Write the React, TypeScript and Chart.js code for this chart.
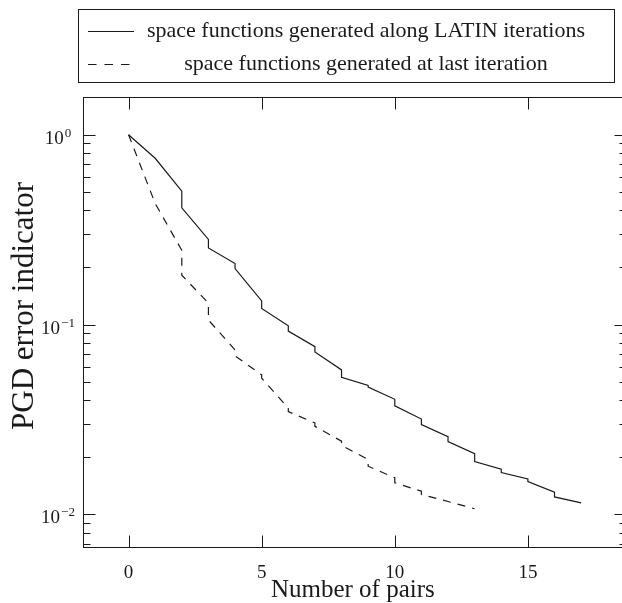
import React, { useEffect, useRef } from 'react';
import { Chart, registerables } from 'chart.js';

Chart.register(...registerables);

// ---- data ----
const solidPairs = [0, 1, 2, 3, 4, 5, 6, 7, 8, 9, 10, 11, 12, 13, 14, 15, 16, 17];
const solidBefore = [1.0, 0.751, 0.504, 0.281, 0.2095, 0.1333, 0.0986, 0.0765, 0.0577, 0.0478, 0.0404, 0.0318, 0.0257, 0.0209, 0.0173, 0.01536, 0.0131, 0.01149];
const solidAfter = [1.0, 0.751, 0.412, 0.253, 0.197, 0.1216, 0.0924, 0.0717, 0.0527, 0.0468, 0.0373, 0.0297, 0.0242, 0.019, 0.0166, 0.0149, 0.01236, 0.01149];

const dashedPairs = [0, 1, 2, 3, 4, 5, 6, 7, 8, 9, 10, 11, 12, 13];
const dashedBefore = [1.0, 0.434, 0.246, 0.1297, 0.0735, 0.0543, 0.0363, 0.0303, 0.0243, 0.01945, 0.0156, 0.01325, 0.0117, 0.01071];
const dashedAfter = [1.0, 0.434, 0.182, 0.1056, 0.0684, 0.0522, 0.0348, 0.0291, 0.0231, 0.01794, 0.01467, 0.01273, 0.0117, 0.01071];

const seriesLabels = [
  'space functions generated along LATIN iterations',
  'space functions generated at last iteration',
];

const xTitle = 'Number of pairs';
const yTitle = 'PGD error indicator';

const xTickValues = [0, 5, 10, 15];
const yTickExponents = [0, -1, -2];

const X_MIN = -1.7;
const X_MAX = 18.7;
const Y_MIN = 0.00676;
const Y_MAX = 1.585;

const FONT = "'Liberation Serif', 'Times New Roman', serif";
const INK = '#1a1a1a';

function stepPoints(xs: number[], before: number[], after: number[]) {
  const pts: { x: number; y: number }[] = [];
  xs.forEach((x, i) => {
    pts.push({ x, y: before[i] });
    if (after[i] !== before[i]) pts.push({ x, y: after[i] });
  });
  return pts;
}

const framePlugin = {
  id: 'frame',
  afterDraw(chart: any) {
    const { ctx, chartArea: a, scales } = chart;
    const xs = scales.x;
    const ys = scales.y;
    ctx.save();
    ctx.strokeStyle = INK;
    ctx.lineWidth = 1;
    const L = Math.round(a.left) + 0.5;
    const T = Math.round(a.top) + 0.5;
    const R = Math.round(a.right) + 0.5;
    const B = Math.round(a.bottom) + 0.5;
    ctx.strokeRect(L, T, R - L, B - T);

    ctx.beginPath();
    xTickValues.forEach((v) => {
      const px = Math.round(xs.getPixelForValue(v)) + 0.5;
      ctx.moveTo(px, B);
      ctx.lineTo(px, B - 12);
      ctx.moveTo(px, T);
      ctx.lineTo(px, T + 12);
    });
    for (let e = -3; e <= 0; e++) {
      for (let m = 1; m <= 9; m++) {
        const v = m * Math.pow(10, e);
        if (v < Y_MIN || v > Y_MAX) continue;
        const py = Math.round(ys.getPixelForValue(v)) + 0.5;
        const len = m === 1 ? 12 : 7;
        ctx.moveTo(L, py);
        ctx.lineTo(L + len, py);
        ctx.moveTo(R, py);
        ctx.lineTo(R - len, py);
      }
    }
    ctx.stroke();

    // y tick labels with superscript exponents
    ctx.fillStyle = INK;
    ctx.textBaseline = 'alphabetic';
    ctx.textAlign = 'left';
    yTickExponents.forEach((e) => {
      const py = ys.getPixelForValue(Math.pow(10, e));
      const base = '10';
      const exp = e === 0 ? '0' : '\u2212' + Math.abs(e);
      ctx.font = `19px ${FONT}`;
      const wb = ctx.measureText(base).width;
      ctx.font = `13px ${FONT}`;
      const we = ctx.measureText(exp).width;
      const total = wb + 1 + we;
      const x0 = 58 - total / 2;
      ctx.font = `19px ${FONT}`;
      ctx.fillText(base, x0, py + 9);
      ctx.font = `13px ${FONT}`;
      ctx.fillText(exp, x0 + wb + 1, py + 2);
    });

    // axis titles
    ctx.textAlign = 'center';
    ctx.textBaseline = 'alphabetic';
    ctx.font = `25px ${FONT}`;
    ctx.fillText(xTitle, (a.left + a.right) / 2 - 2, 597);
    ctx.save();
    ctx.translate(32.5, 306);
    ctx.rotate(-Math.PI / 2);
    ctx.font = `31px ${FONT}`;
    ctx.fillText(yTitle, 0, 0);
    ctx.restore();

    // legend box
    const lx0 = 78.5, ly0 = 9.5, lx1 = 614.5, ly1 = 82.5;
    ctx.strokeRect(lx0, ly0, lx1 - lx0, ly1 - ly0);
    const rows = [31, 64];
    chart.data.datasets.forEach((ds: any, i: number) => {
      const y = rows[i] + 0.5;
      ctx.save();
      ctx.strokeStyle = ds.borderColor;
      ctx.lineWidth = ds.borderWidth;
      ctx.setLineDash(ds.borderDash ? [8.5, 8] : []);
      ctx.beginPath();
      ctx.moveTo(88, y);
      ctx.lineTo(ds.borderDash ? 131 : 134, y);
      ctx.stroke();
      ctx.restore();
      ctx.font = `22px ${FONT}`;
      ctx.textAlign = 'center';
      ctx.fillText(ds.label, 366, rows[i] + 6);
    });
    ctx.restore();
  },
};

export default function App() {
  const ref = useRef<HTMLCanvasElement | null>(null);

  useEffect(() => {
    document.body.style.margin = '0';
    document.documentElement.style.overflow = 'hidden';
    const canvas = ref.current;
    if (!canvas) return;
    const chart = new Chart(canvas, {
      type: 'line',
      data: {
        datasets: [
          {
            label: seriesLabels[0],
            data: stepPoints(solidPairs, solidBefore, solidAfter),
            borderColor: INK,
            borderWidth: 1.2,
            pointRadius: 0,
            tension: 0,
            fill: false,
          },
          {
            label: seriesLabels[1],
            data: stepPoints(dashedPairs, dashedBefore, dashedAfter),
            borderColor: INK,
            borderWidth: 1.2,
            borderDash: [8, 7],
            pointRadius: 0,
            tension: 0,
            fill: false,
          },
        ],
      },
      options: {
        responsive: false,
        animation: false,
        devicePixelRatio: 1,
        layout: { padding: { top: 96.7, right: 3.6, left: 0, bottom: 0 } },
        plugins: { legend: { display: false }, tooltip: { enabled: false } },
        scales: {
          x: {
            type: 'linear',
            min: X_MIN,
            max: X_MAX,
            afterBuildTicks: (s: any) => {
              s.ticks = xTickValues.map((v) => ({ value: v }));
            },
            afterFit: (s: any) => {
              s.height = 56.3;
            },
            grid: { display: false, drawTicks: false },
            border: { display: false },
            ticks: {
              color: INK,
              font: { family: FONT, size: 19 },
              padding: 15,
              maxRotation: 0,
              callback: (v: any) => String(v),
            },
          },
          y: {
            type: 'logarithmic',
            min: Y_MIN,
            max: Y_MAX,
            afterFit: (s: any) => {
              s.width = 83.3;
            },
            grid: { display: false, drawTicks: false },
            border: { display: false },
            ticks: { display: false },
          },
        },
      },
      plugins: [framePlugin],
    });
    return () => chart.destroy();
  }, []);

  return (
    <div style={{ width: 622, height: 603, overflow: 'hidden' }}>
      <canvas ref={ref} width={630} height={603} style={{ display: 'block' }} />
    </div>
  );
}
